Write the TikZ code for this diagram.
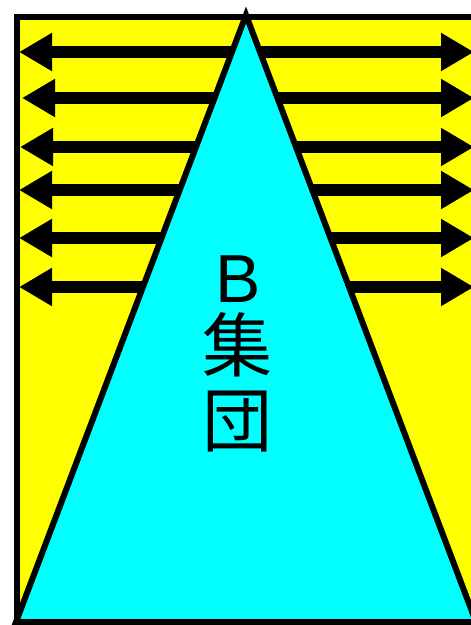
\documentclass[tikz,border=0pt]{standalone}
\usepackage{fontspec}
\newfontfamily\cjk{Noto Sans CJK JP}
\newfontfamily\latin{Liberation Sans}
\usetikzlibrary{arrows.meta}
\definecolor{Ink}{HTML}{000000}
\definecolor{Field}{HTML}{FFFF00}
\definecolor{Group}{HTML}{00FFFF}
\tikzset{
  field/.style={draw=Ink, line width=6pt, fill=Field},
  group/.style={draw=Ink, line width=6pt, fill=Group, line join=miter},
  spread/.style={{Triangle[length=33pt,width=36pt]}-{Triangle[length=33pt,width=36pt]},
    line width=12pt, draw=Ink},
  grouplabel/.style={font=\cjk\fontsize{70}{70}\selectfont, inner sep=0pt}
}
\begin{document}
\begin{tikzpicture}[x=1pt,y=-1pt]
    \useasboundingbox (0,0) rectangle (471,625);
    \clip (0,0) rectangle (471,625);
    \draw[field] (16.5,16.5) rectangle (490,640);

    % arrows behind the triangle
    \foreach \i/\y/\xl in {1/52/19,2/98/22,3/147/20,4/190/19,5/238/19,6/287/19}{
      \coordinate (l\i) at (\xl,\y);
      \coordinate (r\i) at (474,\y);
      \draw[spread] (l\i) -- (r\i);
    }

    \coordinate (apex) at (246,15);
    \coordinate (bl) at (16,622);
    \coordinate (br) at (476,622);
    \draw[group] (apex) -- (bl) -- (br) -- cycle;

    \node[grouplabel, font=\latin\fontsize{68}{68}\selectfont, anchor=base]
      (lblB) at (238.5,302) {B};
    \node[grouplabel] (lblJi) at (237,345) {集};
    \node[grouplabel] (lblDan) at (237,421.5) {団};
  \end{tikzpicture}
\end{document}
